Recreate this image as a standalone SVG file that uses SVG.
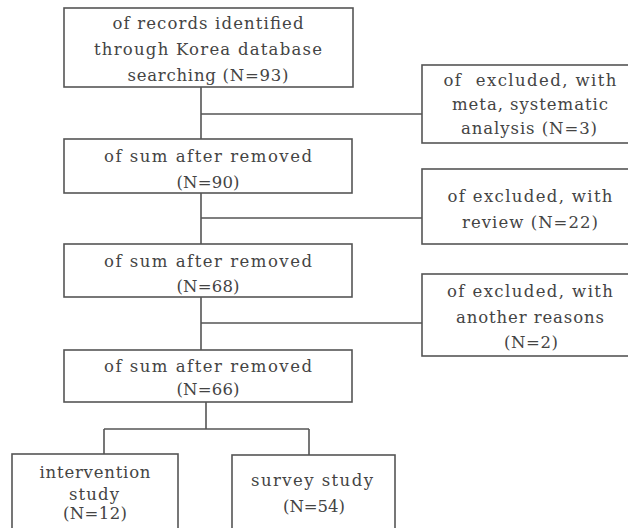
<svg xmlns="http://www.w3.org/2000/svg" width="628" height="528" viewBox="0 0 628 528">
<style>
.box{fill:#fff;stroke:#555;stroke-width:1.6}
.ln{stroke:#555;stroke-width:1.6;fill:none}
text{font-family:"DejaVu Serif","Liberation Serif",serif;font-size:16.5px;fill:#444;text-anchor:middle}
</style>
<rect width="628" height="528" fill="#fff"/>
<g id="connectors">
<path class="ln" d="M201,87V139M201,114H422"/>
<path class="ln" d="M201,193V244M201,218H422"/>
<path class="ln" d="M201,297V350M201,323H422"/>
<path class="ln" d="M206,402V429M104,429H309M104,429V454M309,429V455"/>
</g>
<g id="n1">
<rect class="box" x="64" y="8" width="289" height="79"/>
<text x="208" y="29" textLength="191" lengthAdjust="spacing">of records identified</text>
<text x="208" y="55" textLength="228" lengthAdjust="spacing">through Korea database</text>
<text x="208" y="81" textLength="161" lengthAdjust="spacing">searching (N=93)</text>
</g>
<g id="n2">
<rect class="box" x="64" y="139" width="288" height="54"/>
<text x="208" y="162" textLength="208" lengthAdjust="spacing">of sum after removed</text>
<text x="208" y="188" textLength="63" lengthAdjust="spacing">(N=90)</text>
</g>
<g id="n3">
<rect class="box" x="64" y="244" width="288" height="53"/>
<text x="208" y="267" textLength="208" lengthAdjust="spacing">of sum after removed</text>
<text x="208" y="292" textLength="63" lengthAdjust="spacing">(N=68)</text>
</g>
<g id="n4">
<rect class="box" x="64" y="350" width="288" height="52"/>
<text x="208" y="372" textLength="208" lengthAdjust="spacing">of sum after removed</text>
<text x="208" y="395" textLength="63" lengthAdjust="spacing">(N=66)</text>
</g>
<g id="e1">
<rect class="box" x="422" y="65" width="212" height="78"/>
<text x="530" y="86" textLength="173" lengthAdjust="spacing" xml:space="preserve">of  excluded, with</text>
<text x="530" y="110" textLength="156" lengthAdjust="spacing">meta, systematic</text>
<text x="529" y="134" textLength="136" lengthAdjust="spacing">analysis (N=3)</text>
</g>
<g id="e2">
<rect class="box" x="422" y="169" width="212" height="75"/>
<text x="530" y="202" textLength="165" lengthAdjust="spacing">of excluded, with</text>
<text x="530" y="228" textLength="136" lengthAdjust="spacing">review (N=22)</text>
</g>
<g id="e3">
<rect class="box" x="422" y="274" width="212" height="82"/>
<text x="530" y="297" textLength="166" lengthAdjust="spacing">of excluded, with</text>
<text x="530" y="323" textLength="148" lengthAdjust="spacing">another reasons</text>
<text x="531" y="348" textLength="54" lengthAdjust="spacing">(N=2)</text>
</g>
<g id="n5">
<rect class="box" x="12" y="454" width="166" height="80"/>
<text x="95" y="478" textLength="111" lengthAdjust="spacing">intervention</text>
<text x="94" y="500" textLength="50" lengthAdjust="spacing">study</text>
<text x="95" y="519" textLength="64" lengthAdjust="spacing">(N=12)</text>
</g>
<g id="n6">
<rect class="box" x="232" y="455" width="163" height="80"/>
<text x="312" y="486" textLength="122" lengthAdjust="spacing">survey study</text>
<text x="314" y="512" textLength="62" lengthAdjust="spacing">(N=54)</text>
</g>
</svg>
